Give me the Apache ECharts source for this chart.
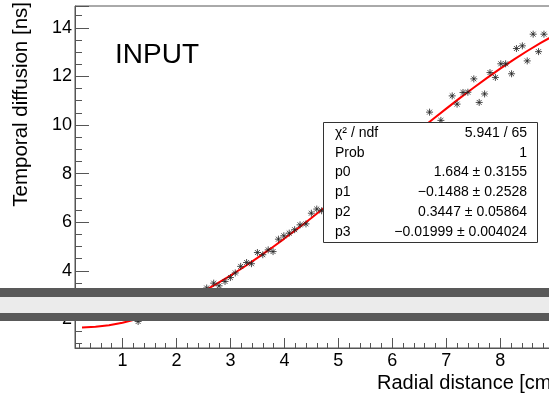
<!DOCTYPE html>
<html><head><meta charset="utf-8">
<script src="https://cdn.jsdelivr.net/npm/echarts@6/dist/echarts.min.js"></script>
<style>html,body{margin:0;padding:0;background:#fff}#c{width:549px;height:393px}</style>
</head><body><div id="c"></div>
<script>
// ---- data ----
const pointsX = [1.29, 2.56, 2.69, 2.79, 2.90, 3.00, 3.09, 3.19, 3.30, 3.39, 3.50, 3.60, 3.70, 3.79, 3.89, 3.99, 4.09, 4.19, 4.29, 4.40, 4.50, 4.60, 4.69,
  6.69, 6.90, 7.11, 7.20, 7.31, 7.40, 7.51, 7.61, 7.71, 7.81, 7.91, 8.01, 8.10, 8.21, 8.30, 8.41, 8.50, 8.61, 8.71, 8.81];
const pointsY = [1.91, 3.29, 3.49, 3.38, 3.56, 3.72, 3.91, 4.18, 4.34, 4.29, 4.75, 4.66, 4.86, 4.79, 5.30, 5.44, 5.55, 5.69, 5.89, 5.93, 6.37, 6.54, 6.47,
  10.53, 10.19, 11.20, 10.86, 11.34, 11.35, 11.90, 10.93, 11.28, 12.16, 11.96, 12.52, 12.52, 12.11, 13.15, 13.26, 12.64, 13.74, 13.02, 13.74];
const fitX = [0.25, 0.5, 0.75, 1.0, 1.25, 1.5, 1.75, 2.0, 2.25, 2.5, 2.75, 3.0, 3.25, 3.5, 3.75, 4.0, 4.25, 4.5, 4.75, 5.0,
  5.25, 5.5, 5.75, 6.0, 6.25, 6.5, 6.75, 7.0, 7.25, 7.5, 7.75, 8.0, 8.25, 8.5, 8.75, 9.0, 9.25];
const fitY = [1.668, 1.693, 1.758, 1.860, 1.998, 2.169, 2.372, 2.605, 2.867, 3.154, 3.466, 3.800, 4.155, 4.529, 4.919, 5.325, 5.743, 6.173, 6.612, 7.059,
  7.511, 7.967, 8.425, 8.883, 9.339, 9.791, 10.237, 10.676, 11.106, 11.524, 11.929, 12.320, 12.693, 13.048, 13.381, 13.693, 13.980];
const statsLabels = ['χ² / ndf', 'Prob', 'p0', 'p1', 'p2', 'p3'];
const statsValues = ['5.941 / 65', '1', '1.684 ± 0.3155', '−0.1488 ± 0.2528', '0.3447 ± 0.05864', '−0.01999 ± 0.004024'];
const xTitle = 'Radial distance [cm]';
const yTitle = 'Temporal diffusion [ns]';
const panelLabel = 'INPUT';
const xRange = [0.12, 9.2];
const yRange = [0.82, 14.9];

// ---- chart ----
const FONT = '"Liberation Sans", Arial, Helvetica, sans-serif';
const AX = '#555';
const chart = echarts.init(document.getElementById('c'), null, {renderer: 'canvas'});

const scatterData = pointsX.map((x, i) => [x, pointsY[i]]);
const fitData = fitX.map((x, i) => [x, fitY[i]]);

const graphics = [
  // overlay band
  {type: 'rect', z: 100, shape: {x: 0, y: 288, width: 549, height: 9}, style: {fill: '#595959'}},
  {type: 'rect', z: 100, shape: {x: 0, y: 297, width: 549, height: 16}, style: {fill: '#ebebeb'}},
  {type: 'rect', z: 100, shape: {x: 0, y: 313, width: 549, height: 8}, style: {fill: '#595959'}},
  // stats box
  {type: 'rect', z: 90, shape: {x: 323.5, y: 122.5, width: 214, height: 120}, style: {fill: '#fff', stroke: '#333', lineWidth: 1}},
  // panel label
  {type: 'text', z: 90, x: 115, y: 55, style: {text: panelLabel, font: '28px ' + FONT, fill: '#000', align: 'left', verticalAlign: 'middle'}},
  // axis titles
  {type: 'text', z: 90, x: 21, y: 2, rotation: Math.PI / 2, style: {text: yTitle, font: '20.5px ' + FONT, fill: '#000', align: 'right', verticalAlign: 'middle'}},
  {type: 'text', z: 90, x: 377, y: 383, style: {text: xTitle, font: '20px ' + FONT, fill: '#000', align: 'left', verticalAlign: 'middle'}}
];
statsLabels.forEach((t, i) => {
  graphics.push({type: 'text', z: 91, x: 335, y: 133 + i * 19.8, style: {text: t, font: '14px ' + FONT, fill: '#000', align: 'left', verticalAlign: 'middle'}});
  graphics.push({type: 'text', z: 91, x: 527, y: 133 + i * 19.8, style: {text: statsValues[i], font: '14px ' + FONT, fill: '#000', align: 'right', verticalAlign: 'middle'}});
});

const option = {
  animation: false,
  backgroundColor: '#fff',
  grid: {left: 75, top: 6, right: -16, bottom: 45, show: true, borderColor: AX, borderWidth: 1, backgroundColor: 'transparent', containLabel: false, outerBoundsMode: 'none'},
  xAxis: {
    type: 'value', min: xRange[0], max: xRange[1], minInterval: 1, maxInterval: 1, splitNumber: 9,
    axisLine: {show: true, onZero: false, lineStyle: {color: AX, width: 1}},
    axisTick: {show: true, inside: true, length: 10, lineStyle: {color: AX, width: 1}},
    minorTick: {show: true, splitNumber: 5, length: 5, lineStyle: {color: AX, width: 1}},
    axisLabel: {show: true, color: '#000', fontFamily: FONT, fontSize: 18, margin: 4, showMinLabel: false, showMaxLabel: false,
      formatter: v => (Math.abs(v - Math.round(v)) < 1e-6 ? String(Math.round(v)) : '')},
    splitLine: {show: false}, minorSplitLine: {show: false}
  },
  yAxis: {
    type: 'value', min: yRange[0], max: yRange[1], minInterval: 2, maxInterval: 2, splitNumber: 7,
    axisLine: {show: true, onZero: false, lineStyle: {color: AX, width: 1}},
    axisTick: {show: true, inside: true, length: 14, lineStyle: {color: AX, width: 1}},
    minorTick: {show: true, splitNumber: 4, length: 7, lineStyle: {color: AX, width: 1}},
    axisLabel: {show: true, color: '#000', fontFamily: FONT, fontSize: 18, margin: 3, showMinLabel: false, showMaxLabel: false,
      formatter: v => (Math.abs(v - Math.round(v)) < 1e-6 ? String(Math.round(v)) : '')},
    splitLine: {show: false}, minorSplitLine: {show: false}
  },
  series: [
    {type: 'line', data: fitData, showSymbol: false, symbol: 'none', smooth: false, clip: true, z: 2,
      lineStyle: {color: '#ff0000', width: 2}, silent: true},
    {type: 'scatter', data: scatterData, clip: true, z: 3,
      symbol: 'path://M4,0L4,8M0,4L8,4M1.2,1.2L6.8,6.8M1.2,6.8L6.8,1.2', symbolSize: 7,
      itemStyle: {color: '#000', borderColor: '#222', borderWidth: 1}}
  ],
  graphic: graphics
};
chart.setOption(option);
</script>
</body></html>
